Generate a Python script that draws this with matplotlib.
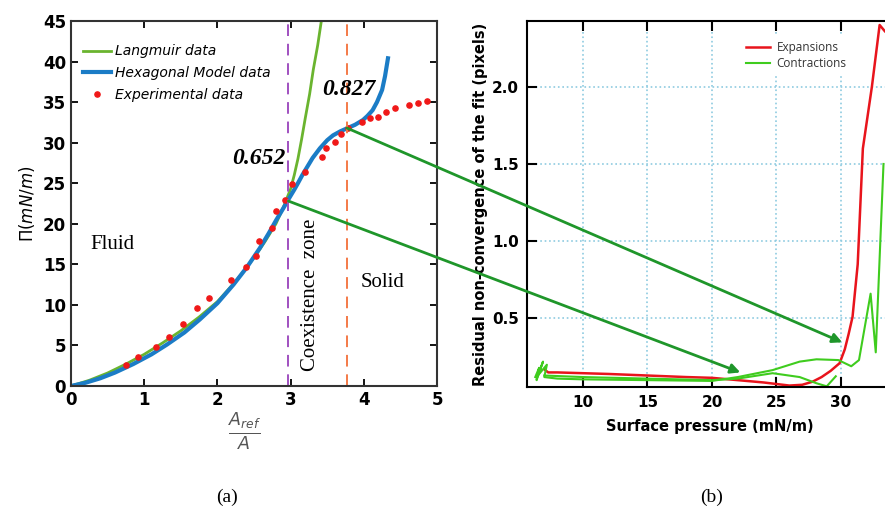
import matplotlib.pyplot as plt
from matplotlib.patches import ConnectionPatch

# ------------------------------------------------------------
# (a) isotherm data
# ------------------------------------------------------------
langmuir_x = [0, 0.25, 0.5, 0.75, 1.0, 1.25, 1.5, 1.75, 2.0, 2.25, 2.5, 2.65,
              2.8, 2.9, 3.0, 3.05, 3.1, 3.15, 3.2, 3.26, 3.31, 3.37, 3.42]
langmuir_y = [0, 0.7, 1.6, 2.7, 3.9, 5.3, 6.8, 8.5, 10.4, 12.9, 15.8, 17.8,
              20.0, 22.0, 24.3, 26.0, 28.0, 30.4, 33.0, 36.0, 39.0, 42.0, 45.0]

hexa_x = [0, 0.2, 0.4, 0.6, 0.85, 1.1, 1.31, 1.55, 1.76, 2.0, 2.22, 2.4, 2.58,
          2.7, 2.8, 2.9, 2.97, 3.05, 3.1, 3.16, 3.22, 3.3, 3.4, 3.5, 3.58,
          3.68, 3.78, 3.88, 3.99, 4.05, 4.12, 4.18, 4.25, 4.29, 4.33]
hexa_y = [0, 0.4, 0.95, 1.65, 2.7, 3.9, 5.1, 6.6, 8.2, 10.2, 12.5, 14.6, 17.0,
          18.8, 20.4, 21.9, 23.0, 24.2, 25.0, 26.0, 26.9, 28.1, 29.3, 30.3,
          30.9, 31.4, 31.8, 32.2, 32.8, 33.3, 34.0, 35.0, 36.5, 38.2, 40.4]

exp_x = [0.75, 0.92, 1.16, 1.34, 1.53, 1.72, 1.89, 2.19, 2.39, 2.53, 2.57,
         2.74, 2.8, 2.92, 3.02, 3.2, 3.43, 3.48, 3.6, 3.69, 3.79, 3.97, 4.09,
         4.2, 4.3, 4.42, 4.62, 4.74, 4.86]
exp_y = [2.6, 3.6, 4.8, 6.0, 7.6, 9.6, 10.8, 13.1, 14.7, 16.0, 17.9,
         19.5, 21.6, 22.9, 24.9, 26.4, 28.2, 29.4, 30.1, 31.1, 31.8, 32.5, 33.0,
         33.2, 33.8, 34.3, 34.6, 34.9, 35.1]

fluid_limit = 2.97
solid_limit = 3.77

# ------------------------------------------------------------
# (b) residual non-convergence data
# ------------------------------------------------------------
exp_p = [7.0, 7.3, 8, 10, 12, 15, 18, 20, 22, 24, 25, 26, 27, 27.8, 28.5,
         29.2, 29.9, 30.3, 30.6, 30.9, 31.3, 31.7, 32.4, 33.0, 33.4]
exp_r = [0.17, 0.15, 0.15, 0.145, 0.14, 0.13, 0.12, 0.115, 0.10, 0.085,
         0.075, 0.065, 0.07, 0.09, 0.12, 0.16, 0.21, 0.30, 0.40, 0.51, 0.85,
         1.6, 2.0, 2.4, 2.36]

con_p = [6.3, 6.6, 6.4, 6.9, 6.5, 7.2, 7.0, 8, 10, 15, 20, 22, 24.7, 26.8,
         28.1, 29.8, 30.8, 31.4, 32.3, 32.7, 33.3]
con_r = [0.12, 0.18, 0.10, 0.22, 0.13, 0.20, 0.12, 0.11, 0.105, 0.10, 0.095,
         0.12, 0.165, 0.22, 0.235, 0.23, 0.19, 0.23, 0.66, 0.28, 1.5]

con2_p = [7.0, 10, 15, 20, 22, 24.7, 26.8, 28.1, 28.9, 29.6]
con2_r = [0.13, 0.12, 0.11, 0.10, 0.11, 0.145, 0.12, 0.08, 0.06, 0.125]

# arrow ends: (a) transition points -> (b) pressures
arrow_a = [(2.97, 22.8), (3.77, 31.8)]
arrow_b = [(22.2, 0.15), (30.1, 0.345)]

fig = plt.figure(figsize=(8.85, 5.08), dpi=100)

# ---------------- panel (a) ----------------
ax1 = fig.add_axes([0.0802, 0.2402, 0.4136, 0.7185])
ax1.plot(langmuir_x, langmuir_y, color="#6ab42f", lw=2, label="Langmuir data")
ax1.plot(hexa_x, hexa_y, color="#1b7cc6", lw=3, label="Hexagonal Model data")
ax1.plot(exp_x, exp_y, ".", color="#f01818", ms=7.5, label="Experimental data")
ax1.axvline(fluid_limit, color="#a050c0", ls=(0, (6, 4)), lw=1.4)
ax1.axvline(solid_limit, color="#f47a48", ls=(0, (6, 4)), lw=1.4)

ax1.set_xlim(0, 5)
ax1.set_ylim(0, 45)
ax1.set_xticks(range(0, 6))
ax1.set_yticks(range(0, 46, 5))
ax1.tick_params(direction="in", top=True, right=True, length=5, width=1.3,
                labelsize=12)
for lab in ax1.get_xticklabels() + ax1.get_yticklabels():
    lab.set_fontweight("bold")
for s in ax1.spines.values():
    s.set_linewidth(1.5)
    s.set_color("#333333")

ax1.set_ylabel(r"$\Pi(mN/m)$", fontsize=12, labelpad=4)
ax1.set_xlabel(r"$\frac{A_{ref}}{A}$", fontsize=18, color="#555555")
ax1.xaxis.set_label_coords(0.475, -0.07, transform=ax1.transAxes)
ax1.xaxis.label.set_va("top")

leg1 = ax1.legend(loc="upper left", frameon=False, handlelength=2.0,
                  handletextpad=0.3, labelspacing=0.55,
                  bbox_to_anchor=(0.0, 0.97),
                  prop={"style": "italic", "size": 10})

serif = "Liberation Serif"
ax1.text(2.57, 28.0, "0.652", family=serif, fontsize=17, fontweight="bold",
         style="italic", ha="center", va="center")
ax1.text(3.8, 36.5, "0.827", family=serif, fontsize=17, fontweight="bold",
         style="italic", ha="center", va="center")
ax1.text(0.56, 17.4, "Fluid", family=serif, fontsize=15, ha="center",
         va="center")
ax1.text(4.26, 12.7, "Solid", family=serif, fontsize=15, ha="center",
         va="center")
ax1.text(3.27, 11.3, "Coexistence  zone", family=serif, fontsize=15,
         rotation=90, ha="center", va="center")

# ---------------- panel (b) ----------------
ax2 = fig.add_axes([0.5955, 0.238, 0.413, 0.7207])
ax2.plot(exp_p, exp_r, color="#e8141c", lw=1.8, label="Expansions")
ax2.plot(con_p, con_r, color="#3fcc1e", lw=1.5, label="Contractions")
ax2.plot(con2_p, con2_r, color="#3fcc1e", lw=1.5)

ax2.set_xlim(5.66, 34)
ax2.set_ylim(0.055, 2.426)
ax2.set_xticks([10, 15, 20, 25, 30])
ax2.set_yticks([0.5, 1.0, 1.5, 2.0])
ax2.grid(True, color="#8ecbe0", ls=":", lw=1.2)
ax2.tick_params(direction="in", top=True, right=False, length=7, width=1.5,
                labelsize=11, pad=6)
for lab in ax2.get_xticklabels() + ax2.get_yticklabels():
    lab.set_fontweight("bold")
for s in ax2.spines.values():
    s.set_linewidth(1.5)
ax2.set_ylabel("Residual non-convergence of the fit (pixels)", fontsize=10.5,
               fontweight="bold", labelpad=3)
ax2.set_xlabel("Surface pressure (mN/m)", fontsize=10.5, fontweight="bold",
               labelpad=6)
leg2 = ax2.legend(loc="upper left", bbox_to_anchor=(0.57, 0.975),
                  frameon=True, fancybox=False, edgecolor="none",
                  facecolor="white", framealpha=1, handlelength=2.0,
                  handletextpad=0.6, labelspacing=0.25,
                  prop={"family": "Open Sans", "size": 8.5})
for t in leg2.get_texts():
    t.set_color("#333333")

# green arrows linking the two panels
for (xa, ya), (xb, yb) in zip(arrow_a, arrow_b):
    con = ConnectionPatch(xyA=(xa, ya), coordsA=ax1.transData,
                          xyB=(xb, yb), coordsB=ax2.transData,
                          arrowstyle="-|>", mutation_scale=14,
                          color="#1f962a", lw=2)
    fig.add_artist(con)

fig.text(227 / 885, 1 - 497 / 508, "(a)", family=serif, fontsize=14,
         ha="center", va="center")
fig.text(712 / 885, 1 - 497 / 508, "(b)", family=serif, fontsize=14,
         ha="center", va="center")

fig.savefig("out.png", dpi=100)
